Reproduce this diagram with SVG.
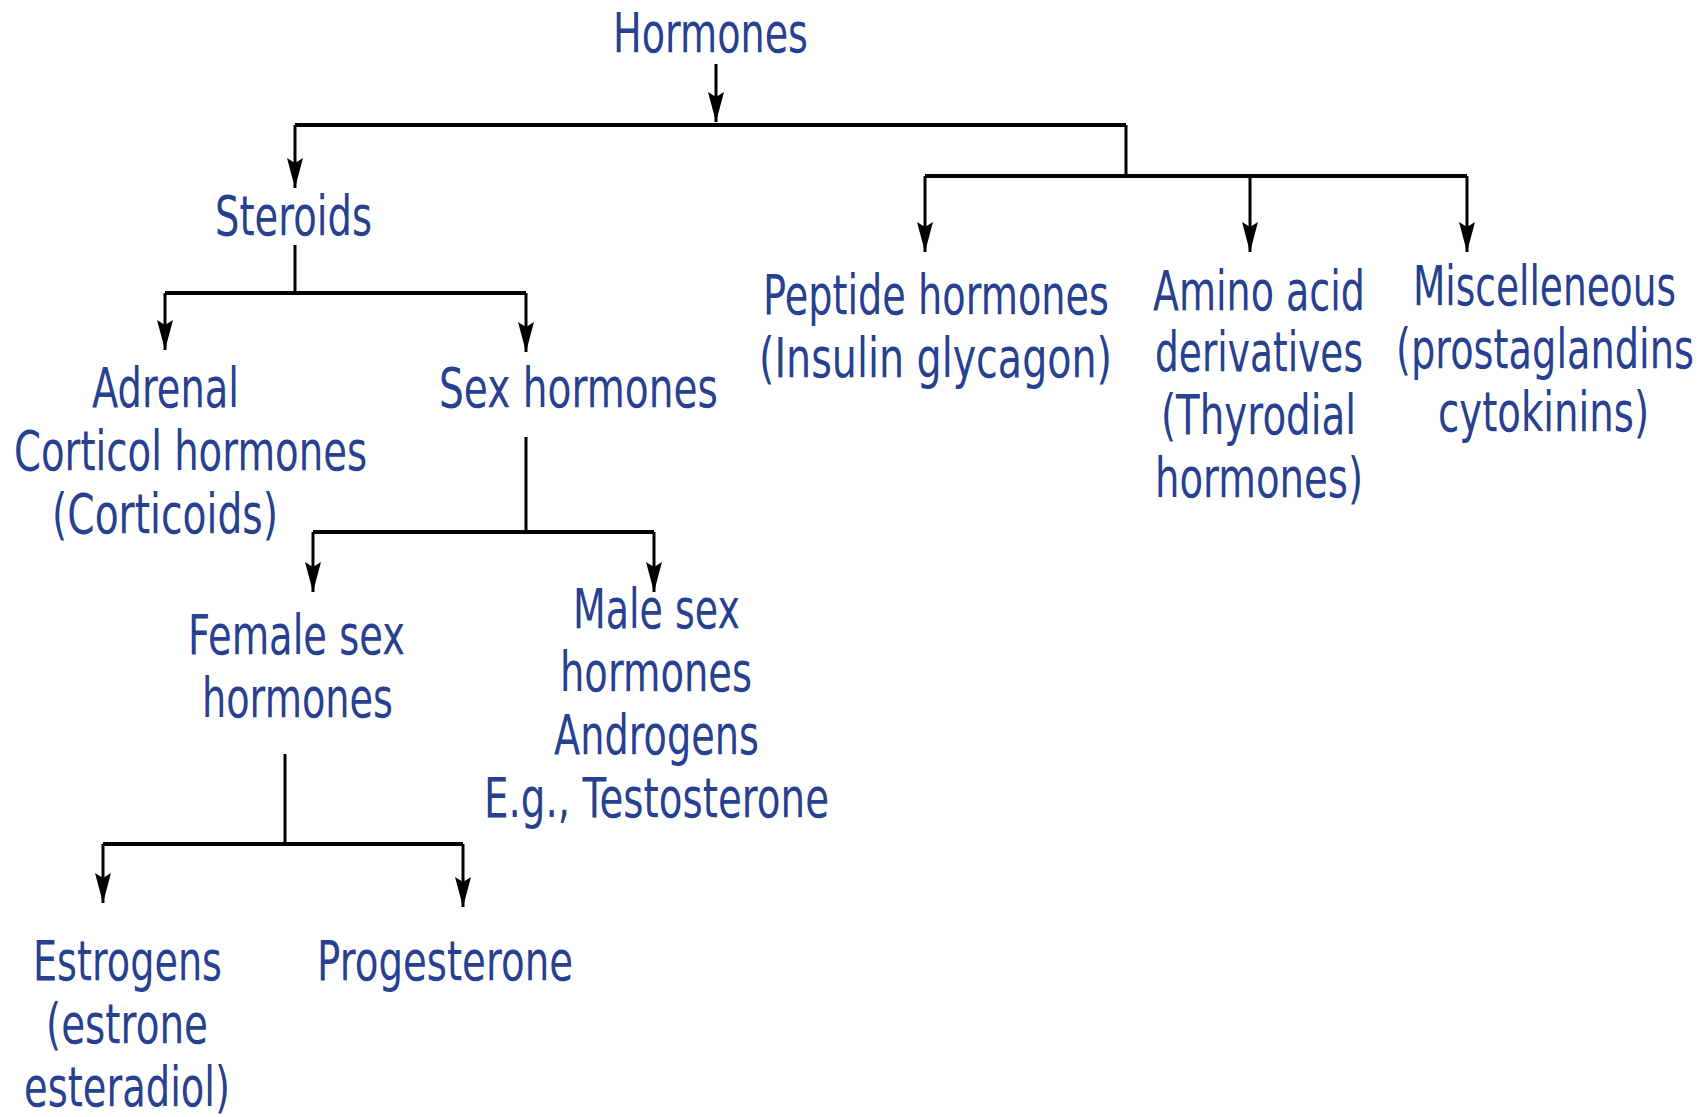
<svg xmlns="http://www.w3.org/2000/svg" width="1701" height="1117" viewBox="0 0 1701 1117">
<style>
text{font-family:"DejaVu Sans","Liberation Sans",sans-serif;font-size:55px;fill:#27408f;}
.c{fill:none;stroke:#000;stroke-width:3;}
.h{fill:none;stroke:#000;stroke-width:4;}
.a{fill:none;stroke:#000;stroke-width:3;marker-end:url(#ah);}
</style>
<defs>
<marker id="ah" markerUnits="userSpaceOnUse" viewBox="0 0 30 16" refX="30" refY="8" markerWidth="30" markerHeight="16" orient="auto">
<path d="M0,0 L30,8 L0,16 L5,8 z" fill="#000"/>
</marker>
</defs>
<rect width="1701" height="1117" fill="#fff"/>
<g id="connectors">
<path class="a" d="M716,64 V122"/>
<path class="h" d="M295,125 H1126"/>
<path class="a" d="M295,125 V188"/>
<path class="c" d="M1126,125 V176"/>
<path class="h" d="M925,176 H1467"/>
<path class="a" d="M925,176 V252"/>
<path class="a" d="M1250,176 V252"/>
<path class="a" d="M1467,176 V252"/>
<path class="c" d="M295,245 V293"/>
<path class="h" d="M165,293 H526"/>
<path class="a" d="M165,293 V350"/>
<path class="a" d="M526,293 V352"/>
<path class="c" d="M526,437 V532"/>
<path class="h" d="M313,532 H654"/>
<path class="a" d="M313,532 V592"/>
<path class="a" d="M654,532 V592"/>
<path class="c" d="M285,754 V844"/>
<path class="h" d="M103,844 H463"/>
<path class="a" d="M103,844 V903"/>
<path class="a" d="M463,844 V907"/>
</g>
<g id="hormones"><text transform="matrix(0.69,0,0,1,613,52)" textLength="282.6" lengthAdjust="spacingAndGlyphs">Hormones</text></g>
<g id="steroids"><text transform="matrix(0.69,0,0,1,215,235)" textLength="227.5" lengthAdjust="spacingAndGlyphs">Steroids</text></g>
<g id="adrenal">
<text transform="matrix(0.69,0,0,1,92,407)" textLength="213" lengthAdjust="spacingAndGlyphs">Adrenal</text>
<text transform="matrix(0.69,0,0,1,14,470)" textLength="511.6" lengthAdjust="spacingAndGlyphs">Corticol hormones</text>
<text transform="matrix(0.69,0,0,1,52,533)" textLength="327.5" lengthAdjust="spacingAndGlyphs">(Corticoids)</text>
</g>
<g id="sex"><text transform="matrix(0.69,0,0,1,439,407)" textLength="404.3" lengthAdjust="spacingAndGlyphs">Sex hormones</text></g>
<g id="female">
<text transform="matrix(0.69,0,0,1,188,654)" textLength="314.5" lengthAdjust="spacingAndGlyphs">Female sex</text>
<text transform="matrix(0.69,0,0,1,202,717)" textLength="276.8" lengthAdjust="spacingAndGlyphs">hormones</text>
</g>
<g id="male">
<text transform="matrix(0.69,0,0,1,573,628)" textLength="242" lengthAdjust="spacingAndGlyphs">Male sex</text>
<text transform="matrix(0.69,0,0,1,560,691)" textLength="278.3" lengthAdjust="spacingAndGlyphs">hormones</text>
<text transform="matrix(0.69,0,0,1,554,754)" textLength="297.1" lengthAdjust="spacingAndGlyphs">Androgens</text>
<text transform="matrix(0.69,0,0,1,484,817)" textLength="500" lengthAdjust="spacingAndGlyphs">E.g., Testosterone</text>
</g>
<g id="estrogens">
<text transform="matrix(0.69,0,0,1,33,980)" textLength="273.9" lengthAdjust="spacingAndGlyphs">Estrogens</text>
<text transform="matrix(0.69,0,0,1,46,1043)" textLength="234.8" lengthAdjust="spacingAndGlyphs">(estrone</text>
<text transform="matrix(0.69,0,0,1,24,1106)" textLength="298.6" lengthAdjust="spacingAndGlyphs">esteradiol)</text>
</g>
<g id="progesterone"><text transform="matrix(0.69,0,0,1,317,980)" textLength="371" lengthAdjust="spacingAndGlyphs">Progesterone</text></g>
<g id="peptide">
<text transform="matrix(0.69,0,0,1,763,314)" textLength="501.4" lengthAdjust="spacingAndGlyphs">Peptide hormones</text>
<text transform="matrix(0.69,0,0,1,759,377)" textLength="511.6" lengthAdjust="spacingAndGlyphs">(Insulin glycagon)</text>
</g>
<g id="amino">
<text transform="matrix(0.69,0,0,1,1153,310)" textLength="307.2" lengthAdjust="spacingAndGlyphs">Amino acid</text>
<text transform="matrix(0.69,0,0,1,1155,371)" textLength="301.4" lengthAdjust="spacingAndGlyphs">derivatives</text>
<text transform="matrix(0.69,0,0,1,1161,434)" textLength="282.6" lengthAdjust="spacingAndGlyphs">(Thyrodial</text>
<text transform="matrix(0.69,0,0,1,1155,497)" textLength="301.4" lengthAdjust="spacingAndGlyphs">hormones)</text>
</g>
<g id="misc">
<text transform="matrix(0.69,0,0,1,1413,305)" textLength="381.2" lengthAdjust="spacingAndGlyphs">Miscelleneous</text>
<text transform="matrix(0.69,0,0,1,1396,368)" textLength="431.9" lengthAdjust="spacingAndGlyphs">(prostaglandins</text>
<text transform="matrix(0.69,0,0,1,1438,431)" textLength="305.8" lengthAdjust="spacingAndGlyphs">cytokinins)</text>
</g>
</svg>
